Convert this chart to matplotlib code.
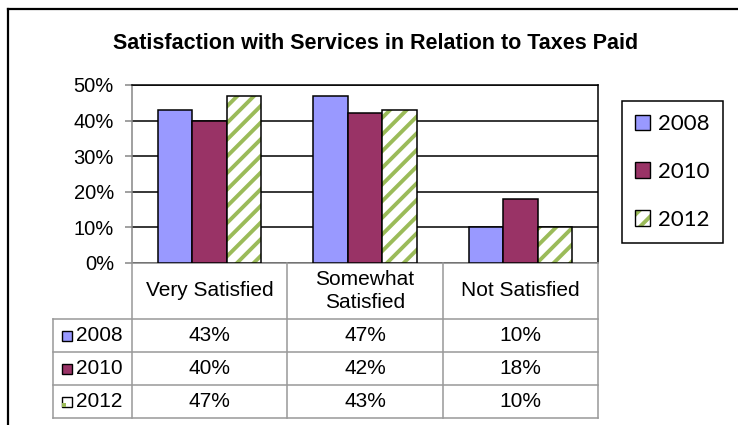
import matplotlib.pyplot as plt
from matplotlib.lines import Line2D
from matplotlib.patches import Patch, Rectangle
import matplotlib.transforms as mtransforms
import numpy as np

categories = ['Very Satisfied', 'Somewhat\nSatisfied', 'Not Satisfied']
years = ['2008', '2010', '2012']
v2008 = [43, 47, 10]
v2010 = [40, 42, 18]
v2012 = [47, 43, 10]
series = [v2008, v2010, v2012]
yticks = [0, 10, 20, 30, 40, 50]

blue = '#9999FF'
plum = '#993366'
green = '#9BBB59'
grey = '#999999'

plt.rcParams['hatch.linewidth'] = 2.8

W, H = 738, 425
fig = plt.figure(figsize=(W / 100, H / 100), dpi=100)


def fx(x):
    return x / W


def fy(y):
    return 1 - y / H


# plot area in pixel coords
left, right, top, bottom = 132, 598, 85, 263
ax = fig.add_axes([fx(left), fy(bottom), fx(right - left), (bottom - top) / H])

x = np.arange(len(categories))
w = 0.222
offs = [-w, 0, w]
for vals, off, col in zip(series[:2], offs[:2], [blue, plum]):
    ax.bar(x + off, vals, w, color=col, edgecolor='black', linewidth=1.1, zorder=3)
# hatched series: green stripes, then black outline on top
ax.bar(x + offs[2], v2012, w, color='white', edgecolor=green, hatch='//', linewidth=0, zorder=3)
ax.bar(x + offs[2], v2012, w, color='none', edgecolor='black', linewidth=1.1, zorder=4)

ax.set_xlim(-0.5, 2.5)
ax.set_ylim(0, 50)
ax.set_yticks(yticks)
ax.set_yticklabels([f'{t}%' for t in yticks], fontsize=14.5, family='Liberation Sans')
ax.tick_params(axis='y', length=5, width=1.1, color='#868686', pad=8)
ax.set_xticks([])
ax.yaxis.grid(True, color='black', linewidth=1.1, zorder=0)
ax.set_axisbelow(True)
for s in ['left', 'bottom']:
    ax.spines[s].set_color('#868686')
    ax.spines[s].set_linewidth(1.1)
for s in ['top', 'right']:
    ax.spines[s].set_color('black')
    ax.spines[s].set_linewidth(1.1)

# data table underneath, columns tied to the category axis
tr = mtransforms.blended_transform_factory(ax.transData, fig.transFigure)
row_y = [263, 319, 352, 385, 418]
lw = 1.1
for y in row_y[1:]:
    fig.add_artist(Line2D([fx(53), fx(right)], [fy(y), fy(y)], color=grey, lw=lw))
for xb in [-0.5, 0.5, 1.5, 2.5]:
    fig.add_artist(Line2D([xb, xb], [fy(263), fy(418)], color=grey, lw=lw, transform=tr))
fig.add_artist(Line2D([fx(53), fx(53)], [fy(319), fy(418)], color=grey, lw=lw))

for i, cat in enumerate(categories):
    fig.text(i, fy(291), cat, transform=tr, ha='center', va='center', fontsize=15,
             family='Liberation Sans', linespacing=1.3)

for r, (yr, vals) in enumerate(zip(years, series)):
    yc = (row_y[r + 1] + row_y[r + 2]) / 2
    for i, v in enumerate(vals):
        fig.text(i, fy(yc), f'{v}%', transform=tr, ha='center', va='center', fontsize=15,
                 family='Liberation Sans')
    fig.text(fx(76), fy(yc), yr, ha='left', va='center', fontsize=15, family='Liberation Sans')

# legend keys in row headers
key_style = [dict(facecolor=blue), dict(facecolor=plum), dict(facecolor='white')]
for r, st in enumerate(key_style):
    yc = (row_y[r + 1] + row_y[r + 2]) / 2
    fig.add_artist(Rectangle((fx(62), fy(yc + 5)), fx(10), 10 / H, edgecolor='black',
                             linewidth=1, **st))
yc = (row_y[3] + row_y[4]) / 2
fig.add_artist(Rectangle((fx(62), fy(yc + 5)), fx(4), 4 / H, facecolor=green, linewidth=0))

handles = [Patch(facecolor=blue, edgecolor='black', linewidth=1),
           Patch(facecolor=plum, edgecolor='black', linewidth=1),
           (Patch(facecolor='white', edgecolor=green, hatch='//', linewidth=0),
            Patch(facecolor='none', edgecolor='black', linewidth=1))]
leg = fig.legend(handles, years, loc='upper left', bbox_to_anchor=(fx(622), fy(101)),
                 borderaxespad=0, frameon=True, fancybox=False, edgecolor='black',
                 framealpha=1, prop={'family': 'Lato', 'size': 16}, handlelength=0.68,
                 handleheight=0.68, handletextpad=0.36, labelspacing=1.25, borderpad=0.59)
leg.get_frame().set_linewidth(1.1)

fig.text(fx(376), fy(49), 'Satisfaction with Services in Relation to Taxes Paid',
         ha='center', va='baseline', fontsize=15.5, fontweight='bold', family='Liberation Sans')

# outer chart border
fig.add_artist(Line2D([fx(8), fx(8)], [fy(9), 0], color='black', lw=1.6))
fig.add_artist(Line2D([fx(8), 1], [fy(9), fy(9)], color='black', lw=1.6))

fig.savefig('out.png', dpi=100)
